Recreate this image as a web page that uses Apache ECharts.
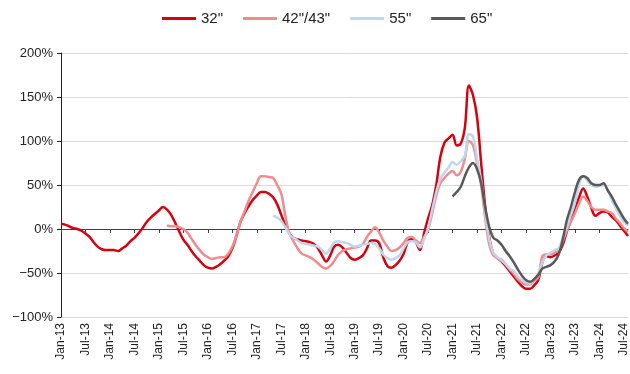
<!DOCTYPE html>
<html><head><meta charset="utf-8">
<script src="https://cdn.jsdelivr.net/npm/echarts@6/dist/echarts.min.js"></script>
<style>html,body{margin:0;padding:0;background:#fff}#c{width:630px;height:374px}</style>
</head><body><div id="c"></div>
<script>
// Categories: monthly, Jan-13 .. Aug-24
var monthNames = ['Jan','Feb','Mar','Apr','May','Jun','Jul','Aug','Sep','Oct','Nov','Dec'];
var categories = [];
for (var y = 13; y <= 24; y++) {
  for (var mm = 0; mm < 12; mm++) {
    if (y === 24 && mm > 7) break;
    categories.push(monthNames[mm] + '-' + y);
  }
}
var seriesNames = ['32"', '42"/43"', '55"', '65"'];
var yTicks = [-100, -50, 0, 50, 100, 150, 200];

var s32 = [6,5,3,1,0,-2,-5,-9,-15,-20,-23,-24,-24,-24,-25,-22,-19,-14,-10,-5,
  1,8,13,17,21,25,22,16,7,-3,-12,-18,-25,-31,-36,-41,-44,-45,-43,-40,
  -36,-31,-22,-8,8,18,26,33,38,42,42,40,36,28,16,4,-5,-10,-12,-13,
  -14,-15,-17,-22,-30,-37,-30,-20,-18,-21,-27,-33,-35,-33,-30,-22,-13,-13,-16,-32,
  -42,-44,-41,-36,-28,-15,-11,-15,-24,-5,12,27,50,82,98,103,107,95,97,115,
  163,152,127,75,25,-10,-28,-33,-37,-42,-48,-54,-60,-65,-68,-68,-64,-58,-38,-31,
  -32,-30,-27,-18,-3,10,22,36,46,37,24,15,18,20,19,14,10,4,-2,-8];

var s42 = [null,null,null,null,null,null,null,null,null,null,null,null,null,null,null,null,null,null,null,null,
  null,null,null,null,null,null,4,3,3,2,0,-4,-11,-18,-24,-29,-32,-34,-33,-32,
  -32,-28,-20,-8,8,20,32,42,52,60,60,59,58,50,40,15,-5,-14,-22,-28,
  -30,-32,-35,-39,-43,-45,-42,-36,-29,-25,-23,-22,-21,-20,-17,-9,-3,2,-4,-13,
  -20,-25,-24,-21,-16,-10,-9,-13,-16,-9,-1,18,38,52,58,63,66,61,65,80,
  100,95,75,50,12,-18,-30,-33,-35,-40,-46,-51,-57,-61,-63,-63,-59,-55,-31,-29,
  -29,-27,-24,-14,-2,8,18,29,37,32,25,22,22,22,20,18,12,7,1,-3];

var s55 = [null,null,null,null,null,null,null,null,null,null,null,null,null,null,null,null,null,null,null,null,
  null,null,null,null,null,null,null,null,null,null,null,null,null,null,null,null,null,null,null,null,
  null,null,null,null,null,null,null,null,null,null,null,null,15,13,9,2,-6,-10,-13,-16,
  -17,-18,-19,-20,-24,-28,-22,-15,-14,-15,-16,-18,-20,-19,-18,-17,-16,-17,-22,-29,
  -33,-35,-33,-30,-22,-15,-14,-15,-21,-12,1,22,42,57,64,70,76,73,77,83,
  108,105,80,55,18,-12,-27,-32,-36,-40,-45,-48,-54,-58,-61,-62,-57,-51,-38,-30,
  -27,-24,-22,-10,2,16,30,50,60,55,50,48,49,50,45,33,24,15,8,4];

var s65 = [null,null,null,null,null,null,null,null,null,null,null,null,null,null,null,null,null,null,null,null,
  null,null,null,null,null,null,null,null,null,null,null,null,null,null,null,null,null,null,null,null,
  null,null,null,null,null,null,null,null,null,null,null,null,null,null,null,null,null,null,null,null,
  null,null,null,null,null,null,null,null,null,null,null,null,null,null,null,null,null,null,null,null,
  null,null,null,null,null,null,null,null,null,null,null,null,null,null,null,null,37,42,48,60,
  70,75,68,52,24,2,-10,-13,-18,-25,-31,-38,-46,-53,-58,-60,-57,-52,-45,-43,
  -41,-37,-29,-12,10,25,42,56,60,58,52,50,50,52,44,37,28,20,12,6];

var colors = ['#d7000f', '#f08c8c', '#bdd7ee', '#595959'];
var data = [s32, s42, s55, s65];
var font = 'Liberation Sans, Arial, sans-serif';

var chart = echarts.init(document.getElementById('c'));
var series = data.map(function (d, i) {
  return {
    name: seriesNames[i], type: 'line', data: d, xAxisIndex: 0,
    symbol: 'none', smooth: 0.35, connectNulls: false,
    lineStyle: { color: colors[i], width: 2.5 }, itemStyle: { color: colors[i] }
  };
});
chart.setOption({
  animation: false,
  legend: {
    top: 6, left: 157, itemGap: 20, itemWidth: 34, itemHeight: 3, icon: 'rect',
    textStyle: { fontFamily: font, fontSize: 15, color: '#222' },
    data: seriesNames
  },
  grid: { left: 61, right: 2, top: 53, bottom: 57 },
  xAxis: [{
    type: 'category', data: categories, boundaryGap: false, position: 'bottom',
    axisLine: { show: false, onZero: false }, axisTick: { show: false },
    axisLabel: { interval: 5, rotate: 90, fontFamily: font, fontSize: 12, color: '#222', margin: 6 },
    splitLine: { show: false }
  }, {
    type: 'category', data: categories, boundaryGap: false, position: 'bottom',
    axisLine: { show: true, onZero: true, lineStyle: { color: '#404040', width: 1 } },
    axisTick: { show: true, interval: 5, length: 4, lineStyle: { color: '#404040' } },
    axisLabel: { show: false }, splitLine: { show: false }
  }],
  yAxis: {
    type: 'value', min: -100, max: 200, interval: 50,
    axisLine: { show: true, lineStyle: { color: '#222', width: 1 } },
    axisTick: { show: true, length: 4, lineStyle: { color: '#222' } },
    axisLabel: {
      fontFamily: font, fontSize: 13, color: '#222', margin: 8,
      formatter: function (v) { return (v < 0 ? '\u2212' + Math.abs(v) : v) + '%'; }
    },
    splitLine: { show: true, lineStyle: { color: '#d9d9d9', width: 1 } }
  },
  series: series
});
</script></body></html>
